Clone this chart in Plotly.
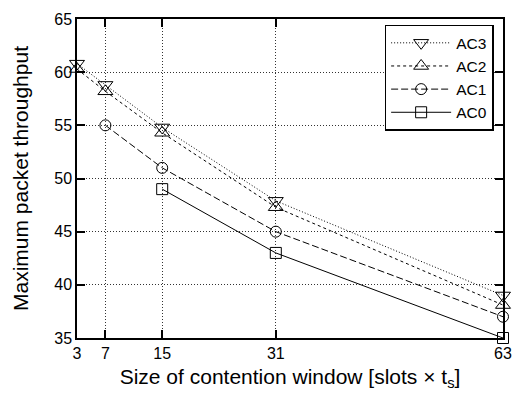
import plotly.graph_objects as go

# Contention window sizes (slots) and maximum packet throughput per access category
cw_ac3 = [3, 7, 15, 31, 63]
thr_ac3 = [60.8, 58.8, 54.8, 47.9, 39.0]

cw_ac2 = [3, 7, 15, 31, 63]
thr_ac2 = [60.3, 58.2, 54.3, 47.3, 38.1]

cw_ac1 = [7, 15, 31, 63]
thr_ac1 = [55.0, 51.0, 45.0, 37.0]

cw_ac0 = [15, 31, 63]
thr_ac0 = [49.0, 43.0, 35.0]

x_ticks = [3, 7, 15, 31, 63]
y_ticks = [35, 40, 45, 50, 55, 60, 65]

series = [
    ("AC3", cw_ac3, thr_ac3, "1px,2px", "triangle-down-open", 13),
    ("AC2", cw_ac2, thr_ac2, "3px,3px", "triangle-up-open", 13),
    ("AC1", cw_ac1, thr_ac1, "7px,3px", "circle-open", 11),
    ("AC0", cw_ac0, thr_ac0, "solid", "square-open", 11),
]

fig = go.Figure()
for name, xs, ys, dash, sym, msize in series:
    fig.add_trace(go.Scatter(
        x=xs, y=ys, name=name, mode="lines+markers",
        line=dict(color="black", width=1, dash=dash),
        marker=dict(symbol=sym, size=msize, color="black",
                    line=dict(color="black", width=1)),
        cliponaxis=False,
    ))

font_family = "Liberation Sans, Arial, Helvetica, sans-serif"

fig.update_layout(
    width=523, height=396,
    margin=dict(l=77, r=12, t=11, b=56),
    paper_bgcolor="white", plot_bgcolor="white",
    font=dict(family=font_family, color="black", size=16),
    legend=dict(
        x=0.978, y=0.982, xanchor="right", yanchor="top",
        bordercolor="black", borderwidth=1.5, bgcolor="white",
        font=dict(size=15.5), tracegroupgap=0, itemwidth=60,
    ),
    showlegend=True,
)

grid_style = dict(showgrid=True, gridcolor="#333333", griddash="1px,2px", gridwidth=1)

fig.update_xaxes(
    range=[3, 63], tickvals=x_ticks, ticktext=[str(v) for v in x_ticks],
    showline=True, linecolor="black", linewidth=1.5, mirror="ticks",
    ticks="inside", ticklen=8, tickcolor="black", tickwidth=1.5,
    zeroline=False, tickfont=dict(size=16),
    title=dict(text="Size of contention window [slots × t<sub>s</sub>]",
               font=dict(size=21), standoff=8),
    **grid_style,
)
fig.update_yaxes(
    range=[35, 65], tickvals=y_ticks,
    showline=True, linecolor="black", linewidth=1.5, mirror="ticks",
    ticks="inside", ticklen=8, tickcolor="black", tickwidth=1.5,
    zeroline=False, tickfont=dict(size=16),
    title=dict(text="Maximum packet throughput", font=dict(size=21), standoff=20),
    **grid_style,
)

fig.write_html("out.html")
